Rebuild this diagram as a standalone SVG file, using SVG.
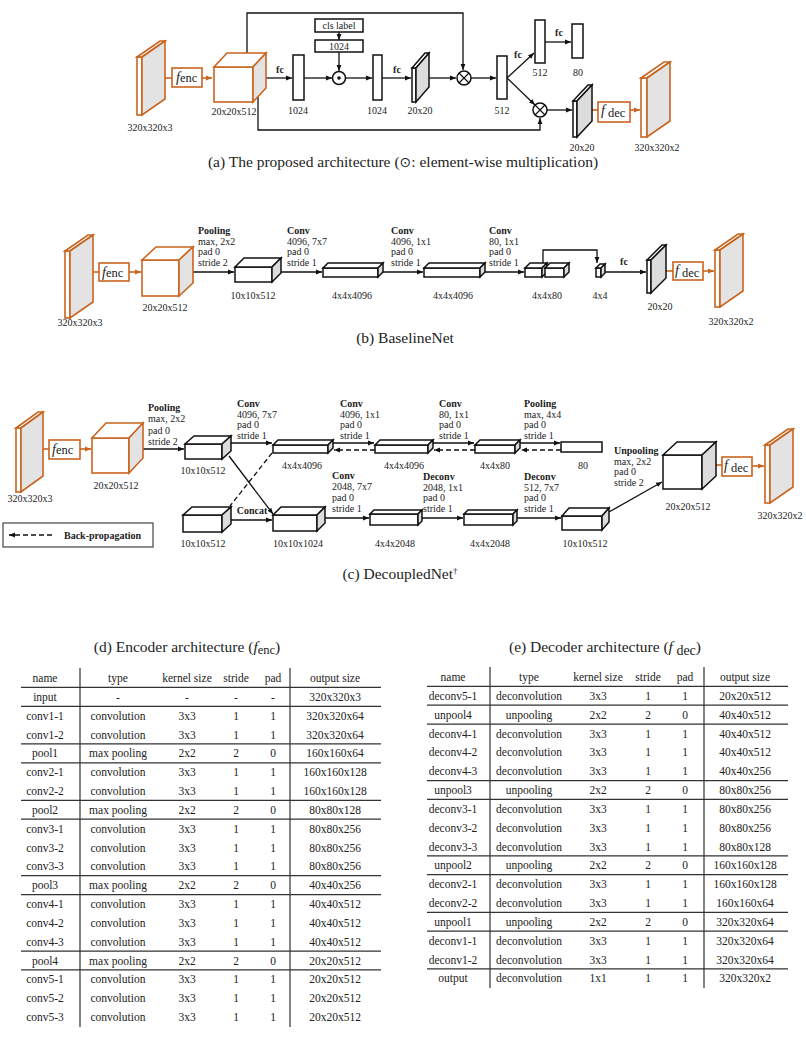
<svg xmlns="http://www.w3.org/2000/svg" width="806" height="1044" viewBox="0 0 806 1044">
<defs>
<style>
text{font-family:"Liberation Serif","Times New Roman",serif;fill:#222}
.l{font-size:10px;text-anchor:middle}
.s{font-size:10px}
.b{font-weight:bold}
.cap{font-size:15.5px;text-anchor:middle}
.t{font-size:11.5px;text-anchor:middle}
.ob{fill:#fff;stroke:#C8641E;stroke-width:1.6}
.og{fill:#E3E3E3;stroke:#C8641E;stroke-width:1.6}
.kb{fill:#fff;stroke:#111;stroke-width:1.5}
.kg{fill:#DCDCDC;stroke:#111;stroke-width:1.5}
.c{fill:none;stroke:#111;stroke-width:1.3}
.co{fill:none;stroke:#C8641E;stroke-width:1.6}
.d{stroke-dasharray:5,3}
.hl{stroke:#333;stroke-width:1.2}
.fn{font-size:14px;font-style:italic}
.fs{font-size:12.5px}
</style>
<marker id="ah" viewBox="0 0 10 10" refX="10" refY="5" markerWidth="6" markerHeight="6" markerUnits="userSpaceOnUse" orient="auto"><path d="M0,1 L10,5 L0,9 z" fill="#111"/></marker>
<marker id="aho" viewBox="0 0 10 10" refX="10" refY="5" markerWidth="6" markerHeight="6" markerUnits="userSpaceOnUse" orient="auto"><path d="M0,1 L10,5 L0,9 z" fill="#C8641E"/></marker>
</defs>
<rect width="806" height="1044" fill="#fff"/>

<!-- ===== (a) ===== -->
<g id="connectors-a">
<path class="co" d="M165,78 H172"/>
<path class="co" d="M202,78 H212" marker-end="url(#aho)"/>
<path class="c" d="M247,53 V13 H463 V70" marker-end="url(#ah)"/>
<path class="c" d="M258,97 V130 H540 V118" marker-end="url(#ah)"/>
<path class="c" d="M266,78 H292" marker-end="url(#ah)"/>
<path class="c" d="M304,78 H332" marker-end="url(#ah)"/>
<path class="c" d="M339,32 V40" marker-end="url(#ah)"/>
<path class="c" d="M339,52 V71" marker-end="url(#ah)"/>
<path class="c" d="M345.5,78 H372" marker-end="url(#ah)"/>
<path class="c" d="M382,78 H411" marker-end="url(#ah)"/>
<path class="c" d="M429,78 H456" marker-end="url(#ah)"/>
<path class="c" d="M471,78 H496" marker-end="url(#ah)"/>
<path class="c" d="M507,78 L534,53" marker-end="url(#ah)"/>
<path class="c" d="M507,78 L535,105" marker-end="url(#ah)"/>
<path class="c" d="M545,42 H571" marker-end="url(#ah)"/>
<path class="c" d="M547,110 H572" marker-end="url(#ah)"/>
<path class="co" d="M592,110 H598"/>
<path class="co" d="M630,110 H640" marker-end="url(#aho)"/>
</g>
<g id="a-input">
<rect x="137" y="57" width="5" height="58" class="ob"/>
<polygon points="137,57 160,41 165,41 142,57" class="ob"/>
<polygon points="142,57 165,41 165,99 142,115" class="og"/>
<text x="150" y="131" class="l">320x320x3</text>
</g>
<g id="a-fenc">
<rect x="172" y="68" width="30" height="19" class="ob"/>
<text x="176" y="82"><tspan class="fn">f</tspan><tspan class="fs">enc</tspan></text>
</g>
<g id="a-feat">
<rect x="214" y="67" width="39" height="35" class="ob"/>
<polygon points="214,67 227,53 266,53 253,67" class="ob"/>
<polygon points="253,67 266,53 266,88 253,102" class="og"/>
<text x="234" y="115" class="l">20x20x512</text>
</g>
<text x="280" y="73" class="l b">fc</text>
<g id="a-fc1">
<rect x="293" y="55" width="11" height="45" class="kb"/>
<text x="298" y="114" class="l">1024</text>
</g>
<g id="a-cls">
<rect x="315" y="19" width="48" height="13" class="kb" stroke-width="1.2"/>
<text x="339" y="29" class="l">cls label</text>
</g>
<g id="a-cls1024">
<rect x="315" y="40" width="48" height="12" class="kb" stroke-width="1.2"/>
<text x="339" y="50" class="l">1024</text>
</g>
<g id="a-dot">
<circle cx="339" cy="78" r="6.5" class="kb"/>
<circle cx="339" cy="78" r="1.8" fill="#111"/>
</g>
<g id="a-fc2">
<rect x="373" y="55" width="9" height="45" class="kb"/>
<text x="377" y="114" class="l">1024</text>
</g>
<text x="397" y="73" class="l b">fc</text>
<g id="a-map">
<rect x="412" y="68" width="4" height="34" class="kb"/>
<polygon points="412,68 425,53 429,53 416,68" class="kb"/>
<polygon points="416,68 429,53 429,87 416,102" class="kg"/>
<text x="420" y="114" class="l">20x20</text>
</g>
<g id="a-mul1">
<circle cx="464" cy="78" r="7" class="kb"/>
<path d="M459,73 L469,83 M459,83 L469,73" stroke="#111" stroke-width="1.2"/>
</g>
<g id="a-fc512">
<rect x="497" y="56" width="10" height="43" class="kb"/>
<text x="502" y="114" class="l">512</text>
</g>
<text x="518" y="58" class="l b">fc</text>
<g id="a-fc512b">
<rect x="535" y="20" width="10" height="43" class="kb"/>
<text x="540" y="76" class="l">512</text>
</g>
<text x="559" y="36" class="l b">fc</text>
<g id="a-fc80">
<rect x="572" y="24" width="11" height="34" class="kb"/>
<text x="578" y="76" class="l">80</text>
</g>
<g id="a-mul2">
<circle cx="540" cy="110" r="7" class="kb"/>
<path d="M535,105 L545,115 M535,115 L545,105" stroke="#111" stroke-width="1.2"/>
</g>
<g id="a-map2">
<rect x="573" y="101" width="4" height="36" class="kb"/>
<polygon points="573,101 588,85 592,85 577,101" class="kb"/>
<polygon points="577,101 592,85 592,121 577,137" class="kg"/>
<text x="582" y="151" class="l">20x20</text>
</g>
<g id="a-fdec">
<rect x="598" y="102" width="32" height="20" class="ob"/>
<text x="601" y="115"><tspan class="fn">f</tspan><tspan class="fs" dy="2"> dec</tspan></text>
</g>
<g id="a-out">
<rect x="641" y="78" width="6" height="59" class="ob"/>
<polygon points="641,78 664,62 670,62 647,78" class="ob"/>
<polygon points="647,78 670,62 670,121 647,137" class="og"/>
<text x="657" y="151" class="l">320x320x2</text>
</g>
<text x="403" y="167" class="cap">(a) The proposed architecture (<tspan font-family="DejaVu Sans" font-size="14">⊙</tspan>: element-wise multiplication)</text>

<!-- ===== (b) ===== -->
<g id="connectors-b">
<path class="co" d="M93,272 H99"/>
<path class="co" d="M129,272 H141" marker-end="url(#aho)"/>
<path class="c" d="M193,272 H234" marker-end="url(#ah)"/>
<path class="c" d="M281,272 H322" marker-end="url(#ah)"/>
<path class="c" d="M383,272 H423" marker-end="url(#ah)"/>
<path class="c" d="M485,272 H524" marker-end="url(#ah)"/>
<path class="c" d="M543,266 V250 H597 V263" marker-end="url(#ah)"/>
<path class="c" d="M605,272 H646" marker-end="url(#ah)"/>
<path class="co" d="M666,271 H673"/>
<path class="co" d="M703,271 H714" marker-end="url(#aho)"/>
</g>
<g id="b-input">
<rect x="65" y="251" width="5" height="67" class="ob"/>
<polygon points="65,251 88,235 93,235 70,251" class="ob"/>
<polygon points="70,251 93,235 93,302 70,318" class="og"/>
<text x="80" y="326" class="l">320x320x3</text>
</g>
<g id="b-fenc">
<rect x="99" y="263" width="30" height="18" class="ob"/>
<text x="102" y="277"><tspan class="fn">f</tspan><tspan class="fs">enc</tspan></text>
</g>
<g id="b-feat">
<rect x="142" y="260" width="37" height="36" class="ob"/>
<polygon points="142,260 156,247 193,247 179,260" class="ob"/>
<polygon points="179,260 193,247 193,283 179,296" class="og"/>
<text x="165" y="311" class="l">20x20x512</text>
</g>
<text class="s" x="198" y="234"><tspan class="b">Pooling</tspan><tspan x="198" dy="10.7">max, 2x2</tspan><tspan x="198" dy="10.7">pad 0</tspan><tspan x="198" dy="10.7">stride 2</tspan></text>
<g id="b-pool">
<rect x="235" y="267" width="37" height="15" class="kb"/>
<polygon points="235,267 244,258 281,258 272,267" class="kb"/>
<polygon points="272,267 281,258 281,273 272,282" class="kg"/>
<text x="253" y="299" class="l">10x10x512</text>
</g>
<text class="s" x="287" y="234"><tspan class="b">Conv</tspan><tspan x="287" dy="10.7">4096, 7x7</tspan><tspan x="287" dy="10.7">pad 0</tspan><tspan x="287" dy="10.7">stride 1</tspan></text>
<g id="b-conv1">
<rect x="323" y="268" width="55" height="9" class="kb"/>
<polygon points="323,268 328,263 383,263 378,268" class="kb"/>
<polygon points="378,268 383,263 383,272 378,277" class="kg"/>
<text x="352" y="299" class="l">4x4x4096</text>
</g>
<text class="s" x="391" y="234"><tspan class="b">Conv</tspan><tspan x="391" dy="10.7">4096, 1x1</tspan><tspan x="391" dy="10.7">pad 0</tspan><tspan x="391" dy="10.7">stride 1</tspan></text>
<g id="b-conv2">
<rect x="424" y="268" width="56" height="9" class="kb"/>
<polygon points="424,268 429,263 485,263 480,268" class="kb"/>
<polygon points="480,268 485,263 485,272 480,277" class="kg"/>
<text x="453" y="299" class="l">4x4x4096</text>
</g>
<text class="s" x="489" y="234"><tspan class="b">Conv</tspan><tspan x="489" dy="10.7">80, 1x1</tspan><tspan x="489" dy="10.7">pad 0</tspan><tspan x="489" dy="10.7">stride 1</tspan></text>
<g id="b-conv3">
<rect x="525" y="268" width="17" height="9" class="kb"/>
<polygon points="525,268 530,263 547,263 542,268" class="kb"/>
<polygon points="542,268 547,263 547,272 542,277" class="kg"/>
<rect x="545" y="268" width="19" height="9" class="kb"/>
<polygon points="545,268 550,263 569,263 564,268" class="kb"/>
<polygon points="564,268 569,263 569,272 564,277" class="kg"/>
<text x="547" y="299" class="l">4x4x80</text>
</g>
<g id="b-small">
<rect x="596" y="268" width="5" height="9" class="kb"/>
<polygon points="596,268 600,264 605,264 601,268" class="kb"/>
<polygon points="601,268 605,264 605,273 601,277" class="kg"/>
<text x="600" y="299" class="l">4x4</text>
</g>
<text x="624" y="265" class="l b">fc</text>
<g id="b-map">
<rect x="647" y="260" width="4" height="33" class="kb"/>
<polygon points="647,260 662,245 666,245 651,260" class="kb"/>
<polygon points="651,260 666,245 666,278 651,293" class="kg"/>
<text x="660" y="310" class="l">20x20</text>
</g>
<g id="b-fdec">
<rect x="673" y="262" width="30" height="18" class="ob"/>
<text x="675" y="275"><tspan class="fn">f</tspan><tspan class="fs" dy="2"> dec</tspan></text>
</g>
<g id="b-out">
<rect x="715" y="250" width="5" height="57" class="ob"/>
<polygon points="715,250 738,234 743,234 720,250" class="ob"/>
<polygon points="720,250 743,234 743,291 720,307" class="og"/>
<text x="731" y="325" class="l">320x320x2</text>
</g>
<text x="405" y="343" class="cap">(b) BaselineNet</text>

<!-- ===== (c) ===== -->
<g id="connectors-c">
<path class="co" d="M43,449 H49"/>
<path class="co" d="M80,449 H91" marker-end="url(#aho)"/>
<path class="c" d="M143,449 H184" marker-end="url(#ah)"/>
<path class="c" d="M231,443 H272" marker-end="url(#ah)"/>
<path class="c" d="M333,443 H374" marker-end="url(#ah)"/>
<path class="c" d="M433,443 H474" marker-end="url(#ah)"/>
<path class="c" d="M520,443 H560" marker-end="url(#ah)"/>
<path class="c d" d="M375,450 H334" marker-end="url(#ah)"/>
<path class="c d" d="M475,450 H434" marker-end="url(#ah)"/>
<path class="c d" d="M561,450 H521" marker-end="url(#ah)"/>
<path class="c" d="M229,456 L273,514" marker-end="url(#ah)"/>
<path class="c d" d="M272,453 L230,506"/>
<path class="c" d="M231,520 H272" marker-end="url(#ah)"/>
<path class="c" d="M325,518 H369" marker-end="url(#ah)"/>
<path class="c" d="M422,518 H463" marker-end="url(#ah)"/>
<path class="c" d="M517,518 H561" marker-end="url(#ah)"/>
<path class="c" d="M609,512 L662,482" marker-end="url(#ah)"/>
<path class="co" d="M716,465 H722"/>
<path class="co" d="M752,466 H764" marker-end="url(#aho)"/>
</g>
<g id="c-input">
<rect x="16" y="428" width="5" height="64" class="ob"/>
<polygon points="16,428 38,412 43,412 21,428" class="ob"/>
<polygon points="21,428 43,412 43,476 21,492" class="og"/>
<text x="30" y="502" class="l">320x320x3</text>
</g>
<g id="c-fenc">
<rect x="49" y="440" width="31" height="19" class="ob"/>
<text x="52" y="454"><tspan class="fn">f</tspan><tspan class="fs">enc</tspan></text>
</g>
<g id="c-feat">
<rect x="92" y="438" width="37" height="35" class="ob"/>
<polygon points="92,438 106,423 143,423 129,438" class="ob"/>
<polygon points="129,438 143,423 143,458 129,473" class="og"/>
<text x="116" y="489" class="l">20x20x512</text>
</g>
<text class="s" x="148" y="411"><tspan class="b">Pooling</tspan><tspan x="148" dy="11.3">max, 2x2</tspan><tspan x="148" dy="11.3">pad 0</tspan><tspan x="148" dy="11.3">stride 2</tspan></text>
<g id="c-pool">
<rect x="185" y="444" width="37" height="15" class="kb"/>
<polygon points="185,444 194,436 231,436 222,444" class="kb"/>
<polygon points="222,444 231,436 231,451 222,459" class="kg"/>
<text x="203" y="474" class="l">10x10x512</text>
</g>
<text class="s" x="237" y="407"><tspan class="b">Conv</tspan><tspan x="237" dy="10.7">4096, 7x7</tspan><tspan x="237" dy="10.7">pad 0</tspan><tspan x="237" dy="10.7">stride 1</tspan></text>
<g id="c-conv1">
<rect x="273" y="445" width="55" height="8" class="kb"/>
<polygon points="273,445 278,440 333,440 328,445" class="kb"/>
<polygon points="328,445 333,440 333,448 328,453" class="kg"/>
<text x="302" y="469" class="l">4x4x4096</text>
</g>
<text class="s" x="340" y="407"><tspan class="b">Conv</tspan><tspan x="340" dy="10.7">4096, 1x1</tspan><tspan x="340" dy="10.7">pad 0</tspan><tspan x="340" dy="10.7">stride 1</tspan></text>
<g id="c-conv2">
<rect x="375" y="445" width="53" height="8" class="kb"/>
<polygon points="375,445 380,440 433,440 428,445" class="kb"/>
<polygon points="428,445 433,440 433,448 428,453" class="kg"/>
<text x="404" y="469" class="l">4x4x4096</text>
</g>
<text class="s" x="439" y="407"><tspan class="b">Conv</tspan><tspan x="439" dy="10.7">80, 1x1</tspan><tspan x="439" dy="10.7">pad 0</tspan><tspan x="439" dy="10.7">stride 1</tspan></text>
<g id="c-conv3">
<rect x="475" y="445" width="40" height="8" class="kb"/>
<polygon points="475,445 480,440 520,440 515,445" class="kb"/>
<polygon points="515,445 520,440 520,448 515,453" class="kg"/>
<text x="495" y="469" class="l">4x4x80</text>
</g>
<text class="s" x="524" y="407"><tspan class="b">Pooling</tspan><tspan x="524" dy="10.7">max, 4x4</tspan><tspan x="524" dy="10.7">pad 0</tspan><tspan x="524" dy="10.7">stride 1</tspan></text>
<g id="c-80">
<rect x="561" y="442" width="41" height="10" class="kb"/>
<text x="583" y="469" class="l">80</text>
</g>
<g id="c-mask">
<rect x="183" y="515" width="39" height="17" class="kb"/>
<polygon points="183,515 192,507 231,507 222,515" class="kb"/>
<polygon points="222,515 231,507 231,524 222,532" class="kg"/>
<text x="203" y="547" class="l">10x10x512</text>
</g>
<text x="252" y="514" class="l b">Concat</text>
<g id="c-concat">
<rect x="273" y="515" width="44" height="16" class="kb"/>
<polygon points="273,515 281,507 325,507 317,515" class="kb"/>
<polygon points="317,515 325,507 325,523 317,531" class="kg"/>
<text x="298" y="547" class="l">10x10x1024</text>
</g>
<text class="s" x="332" y="479"><tspan class="b">Conv</tspan><tspan x="332" dy="11">2048, 7x7</tspan><tspan x="332" dy="11">pad 0</tspan><tspan x="332" dy="11">stride 1</tspan></text>
<g id="c-dconv1">
<rect x="370" y="514" width="48" height="11" class="kb"/>
<polygon points="370,514 374,510 422,510 418,514" class="kb"/>
<polygon points="418,514 422,510 422,521 418,525" class="kg"/>
<text x="395" y="547" class="l">4x4x2048</text>
</g>
<text class="s" x="423" y="480"><tspan class="b">Deconv</tspan><tspan x="423" dy="10.7">2048, 1x1</tspan><tspan x="423" dy="10.7">pad 0</tspan><tspan x="423" dy="10.7">stride 1</tspan></text>
<g id="c-dconv2">
<rect x="464" y="514" width="49" height="11" class="kb"/>
<polygon points="464,514 468,510 517,510 513,514" class="kb"/>
<polygon points="513,514 517,510 517,521 513,525" class="kg"/>
<text x="490" y="547" class="l">4x4x2048</text>
</g>
<text class="s" x="524" y="480"><tspan class="b">Deconv</tspan><tspan x="524" dy="10.7">512, 7x7</tspan><tspan x="524" dy="10.7">pad 0</tspan><tspan x="524" dy="10.7">stride 1</tspan></text>
<g id="c-dconv3">
<rect x="562" y="516" width="40" height="14" class="kb"/>
<polygon points="562,516 569,508 609,508 602,516" class="kb"/>
<polygon points="602,516 609,508 609,522 602,530" class="kg"/>
<text x="585" y="547" class="l">10x10x512</text>
</g>
<text class="s" x="614" y="454"><tspan class="b">Unpooling</tspan><tspan x="614" dy="10.7">max, 2x2</tspan><tspan x="614" dy="10.7">pad 0</tspan><tspan x="614" dy="10.7">stride 2</tspan></text>
<g id="c-unpool">
<rect x="663" y="455" width="39" height="34" class="kb"/>
<polygon points="663,455 677,442 716,442 702,455" class="kb"/>
<polygon points="702,455 716,442 716,476 702,489" class="kg"/>
<text x="688" y="510" class="l">20x20x512</text>
</g>
<g id="c-fdec">
<rect x="722" y="457" width="30" height="19" class="ob"/>
<text x="724" y="470"><tspan class="fn">f</tspan><tspan class="fs" dy="2"> dec</tspan></text>
</g>
<g id="c-out">
<rect x="765" y="445" width="5" height="58" class="ob"/>
<polygon points="765,445 788,429 793,429 770,445" class="ob"/>
<polygon points="770,445 793,429 793,487 770,503" class="og"/>
<text x="780" y="519" class="l">320x320x2</text>
</g>
<g id="legend">
<rect x="3" y="523" width="150" height="24" fill="none" stroke="#444" stroke-width="1.2"/>
<path class="c d" d="M52,535 H9" marker-end="url(#ah)"/>
<text x="64" y="539" class="s b">Back-propagation</text>
</g>
<text x="400" y="579" class="cap">(c) DecoupledNet<tspan font-size="9" dy="-5">†</tspan></text>

<!-- ===== (d) table ===== -->
<g id="table-d">
<text x="187" y="652" class="cap">(d) Encoder architecture (<tspan font-style="italic">f</tspan><tspan font-size="12.5" dy="2">enc</tspan><tspan dy="-2">)</tspan></text>
<path class="hl" d="M80,668 V1027 M290,668 V1027"/>
<path class="hl" d="M21,687.4 H381 M21,706.3 H381 M21,743.9 H381 M21,762.8 H381 M21,800.4 H381 M21,819.2 H381 M21,875.7 H381 M21,894.6 H381 M21,951.1 H381 M21,969.9 H381"/>
<text class="t" y="682"><tspan x="45">name</tspan><tspan x="118">type</tspan><tspan x="187">kernel size</tspan><tspan x="236">stride</tspan><tspan x="273">pad</tspan><tspan x="335">output size</tspan></text>
<text class="t" y="701"><tspan x="45">input</tspan><tspan x="118">-</tspan><tspan x="187">-</tspan><tspan x="236">-</tspan><tspan x="273">-</tspan><tspan x="335">320x320x3</tspan></text>
<text class="t" y="720"><tspan x="45">conv1-1</tspan><tspan x="118">convolution</tspan><tspan x="187">3x3</tspan><tspan x="236">1</tspan><tspan x="273">1</tspan><tspan x="335">320x320x64</tspan></text>
<text class="t" y="738.5"><tspan x="45">conv1-2</tspan><tspan x="118">convolution</tspan><tspan x="187">3x3</tspan><tspan x="236">1</tspan><tspan x="273">1</tspan><tspan x="335">320x320x64</tspan></text>
<text class="t" y="757.3"><tspan x="45">pool1</tspan><tspan x="118">max pooling</tspan><tspan x="187">2x2</tspan><tspan x="236">2</tspan><tspan x="273">0</tspan><tspan x="335">160x160x64</tspan></text>
<text class="t" y="776.2"><tspan x="45">conv2-1</tspan><tspan x="118">convolution</tspan><tspan x="187">3x3</tspan><tspan x="236">1</tspan><tspan x="273">1</tspan><tspan x="335">160x160x128</tspan></text>
<text class="t" y="795"><tspan x="45">conv2-2</tspan><tspan x="118">convolution</tspan><tspan x="187">3x3</tspan><tspan x="236">1</tspan><tspan x="273">1</tspan><tspan x="335">160x160x128</tspan></text>
<text class="t" y="813.8"><tspan x="45">pool2</tspan><tspan x="118">max pooling</tspan><tspan x="187">2x2</tspan><tspan x="236">2</tspan><tspan x="273">0</tspan><tspan x="335">80x80x128</tspan></text>
<text class="t" y="832.6"><tspan x="45">conv3-1</tspan><tspan x="118">convolution</tspan><tspan x="187">3x3</tspan><tspan x="236">1</tspan><tspan x="273">1</tspan><tspan x="335">80x80x256</tspan></text>
<text class="t" y="851.5"><tspan x="45">conv3-2</tspan><tspan x="118">convolution</tspan><tspan x="187">3x3</tspan><tspan x="236">1</tspan><tspan x="273">1</tspan><tspan x="335">80x80x256</tspan></text>
<text class="t" y="870.3"><tspan x="45">conv3-3</tspan><tspan x="118">convolution</tspan><tspan x="187">3x3</tspan><tspan x="236">1</tspan><tspan x="273">1</tspan><tspan x="335">80x80x256</tspan></text>
<text class="t" y="889.1"><tspan x="45">pool3</tspan><tspan x="118">max pooling</tspan><tspan x="187">2x2</tspan><tspan x="236">2</tspan><tspan x="273">0</tspan><tspan x="335">40x40x256</tspan></text>
<text class="t" y="908"><tspan x="45">conv4-1</tspan><tspan x="118">convolution</tspan><tspan x="187">3x3</tspan><tspan x="236">1</tspan><tspan x="273">1</tspan><tspan x="335">40x40x512</tspan></text>
<text class="t" y="926.8"><tspan x="45">conv4-2</tspan><tspan x="118">convolution</tspan><tspan x="187">3x3</tspan><tspan x="236">1</tspan><tspan x="273">1</tspan><tspan x="335">40x40x512</tspan></text>
<text class="t" y="945.6"><tspan x="45">conv4-3</tspan><tspan x="118">convolution</tspan><tspan x="187">3x3</tspan><tspan x="236">1</tspan><tspan x="273">1</tspan><tspan x="335">40x40x512</tspan></text>
<text class="t" y="964.5"><tspan x="45">pool4</tspan><tspan x="118">max pooling</tspan><tspan x="187">2x2</tspan><tspan x="236">2</tspan><tspan x="273">0</tspan><tspan x="335">20x20x512</tspan></text>
<text class="t" y="983.3"><tspan x="45">conv5-1</tspan><tspan x="118">convolution</tspan><tspan x="187">3x3</tspan><tspan x="236">1</tspan><tspan x="273">1</tspan><tspan x="335">20x20x512</tspan></text>
<text class="t" y="1002.1"><tspan x="45">conv5-2</tspan><tspan x="118">convolution</tspan><tspan x="187">3x3</tspan><tspan x="236">1</tspan><tspan x="273">1</tspan><tspan x="335">20x20x512</tspan></text>
<text class="t" y="1020.9"><tspan x="45">conv5-3</tspan><tspan x="118">convolution</tspan><tspan x="187">3x3</tspan><tspan x="236">1</tspan><tspan x="273">1</tspan><tspan x="335">20x20x512</tspan></text>
</g>

<!-- ===== (e) table ===== -->
<g id="table-e">
<text x="605" y="652" class="cap">(e) Decoder architecture (<tspan font-style="italic">f</tspan><tspan font-size="14" dy="3"> dec</tspan><tspan dy="-3">)</tspan></text>
<path class="hl" d="M490,667 V988 M704,667 V988"/>
<path class="hl" d="M427,686.4 H788 M427,705.2 H788 M427,724.1 H788 M427,780.6 H788 M427,799.4 H788 M427,855.9 H788 M427,874.7 H788 M427,912.4 H788 M427,931.2 H788 M427,968.9 H788"/>
<text class="t" y="681"><tspan x="453">name</tspan><tspan x="529">type</tspan><tspan x="598">kernel size</tspan><tspan x="648">stride</tspan><tspan x="685">pad</tspan><tspan x="745">output size</tspan></text>
<text class="t" y="699.8"><tspan x="453">deconv5-1</tspan><tspan x="529">deconvolution</tspan><tspan x="598">3x3</tspan><tspan x="648">1</tspan><tspan x="685">1</tspan><tspan x="745">20x20x512</tspan></text>
<text class="t" y="718.7"><tspan x="453">unpool4</tspan><tspan x="529">unpooling</tspan><tspan x="598">2x2</tspan><tspan x="648">2</tspan><tspan x="685">0</tspan><tspan x="745">40x40x512</tspan></text>
<text class="t" y="737.5"><tspan x="453">deconv4-1</tspan><tspan x="529">deconvolution</tspan><tspan x="598">3x3</tspan><tspan x="648">1</tspan><tspan x="685">1</tspan><tspan x="745">40x40x512</tspan></text>
<text class="t" y="756.3"><tspan x="453">deconv4-2</tspan><tspan x="529">deconvolution</tspan><tspan x="598">3x3</tspan><tspan x="648">1</tspan><tspan x="685">1</tspan><tspan x="745">40x40x512</tspan></text>
<text class="t" y="775.2"><tspan x="453">deconv4-3</tspan><tspan x="529">deconvolution</tspan><tspan x="598">3x3</tspan><tspan x="648">1</tspan><tspan x="685">1</tspan><tspan x="745">40x40x256</tspan></text>
<text class="t" y="794"><tspan x="453">unpool3</tspan><tspan x="529">unpooling</tspan><tspan x="598">2x2</tspan><tspan x="648">2</tspan><tspan x="685">0</tspan><tspan x="745">80x80x256</tspan></text>
<text class="t" y="812.8"><tspan x="453">deconv3-1</tspan><tspan x="529">deconvolution</tspan><tspan x="598">3x3</tspan><tspan x="648">1</tspan><tspan x="685">1</tspan><tspan x="745">80x80x256</tspan></text>
<text class="t" y="831.6"><tspan x="453">deconv3-2</tspan><tspan x="529">deconvolution</tspan><tspan x="598">3x3</tspan><tspan x="648">1</tspan><tspan x="685">1</tspan><tspan x="745">80x80x256</tspan></text>
<text class="t" y="850.5"><tspan x="453">deconv3-3</tspan><tspan x="529">deconvolution</tspan><tspan x="598">3x3</tspan><tspan x="648">1</tspan><tspan x="685">1</tspan><tspan x="745">80x80x128</tspan></text>
<text class="t" y="869.3"><tspan x="453">unpool2</tspan><tspan x="529">unpooling</tspan><tspan x="598">2x2</tspan><tspan x="648">2</tspan><tspan x="685">0</tspan><tspan x="745">160x160x128</tspan></text>
<text class="t" y="888.1"><tspan x="453">deconv2-1</tspan><tspan x="529">deconvolution</tspan><tspan x="598">3x3</tspan><tspan x="648">1</tspan><tspan x="685">1</tspan><tspan x="745">160x160x128</tspan></text>
<text class="t" y="907"><tspan x="453">deconv2-2</tspan><tspan x="529">deconvolution</tspan><tspan x="598">3x3</tspan><tspan x="648">1</tspan><tspan x="685">1</tspan><tspan x="745">160x160x64</tspan></text>
<text class="t" y="925.8"><tspan x="453">unpool1</tspan><tspan x="529">unpooling</tspan><tspan x="598">2x2</tspan><tspan x="648">2</tspan><tspan x="685">0</tspan><tspan x="745">320x320x64</tspan></text>
<text class="t" y="944.6"><tspan x="453">deconv1-1</tspan><tspan x="529">deconvolution</tspan><tspan x="598">3x3</tspan><tspan x="648">1</tspan><tspan x="685">1</tspan><tspan x="745">320x320x64</tspan></text>
<text class="t" y="963.5"><tspan x="453">deconv1-2</tspan><tspan x="529">deconvolution</tspan><tspan x="598">3x3</tspan><tspan x="648">1</tspan><tspan x="685">1</tspan><tspan x="745">320x320x64</tspan></text>
<text class="t" y="982.3"><tspan x="453">output</tspan><tspan x="529">deconvolution</tspan><tspan x="598">1x1</tspan><tspan x="648">1</tspan><tspan x="685">1</tspan><tspan x="745">320x320x2</tspan></text>
</g>
</svg>
